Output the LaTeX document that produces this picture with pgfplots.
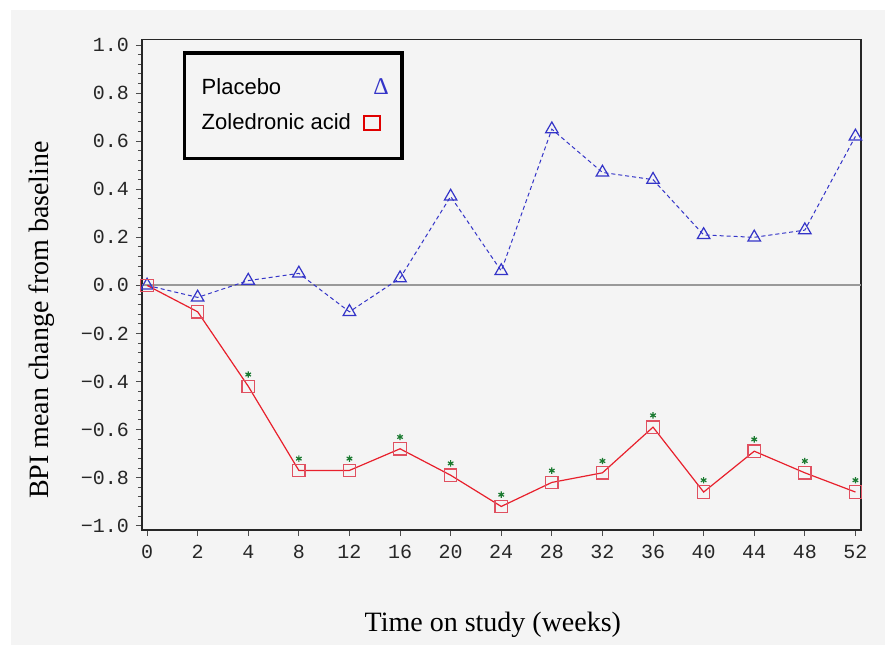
\documentclass[border=0pt]{standalone}
\usepackage{fontspec}
\setmainfont{Liberation Serif}
\setmonofont{Liberation Mono}
\newfontfamily\legfont{Liberation Sans}
\usepackage{pgfplots}
\pgfplotsset{compat=1.18}
\definecolor{bg}{HTML}{F4F4F4}
\definecolor{plblue}{HTML}{3434C8}
\definecolor{zored}{HTML}{E8202C}
\definecolor{zomark}{HTML}{E05060}
\definecolor{astgreen}{HTML}{1A7A30}
\definecolor{legred}{HTML}{E00000}
\begin{document}
\begin{tikzpicture}
\fill[white] (-71pt,-57.5pt) rectangle (371.5pt,265pt);
\fill[bg] (-65.5pt,-57.5pt) rectangle (371.5pt,260pt);
\path[use as bounding box] (-71pt,-57.5pt) rectangle (371.5pt,265pt);
\begin{axis}[
  at={(0,0)}, anchor=south west,
  scale only axis, width=359.5pt, height=245.35pt,
  xmin=-0.1, xmax=14.11, ymin=-1.018, ymax=1.024,
  axis line style={line width=0.65pt, black!85},
  tick align=outside, tick pos=left,
  major tick length=3pt, minor tick length=2pt,
  tick style={line width=0.5pt, black!70},
  xtick={0,...,14},
  xticklabels={0,2,4,8,12,16,20,24,28,32,36,40,44,48,52},
  ytick={-1,-0.8,-0.6,-0.4,-0.2,0,0.2,0.4,0.6,0.8,1},
  yticklabels={−1.0,−0.8,−0.6,−0.4,−0.2,0.0,0.2,0.4,0.6,0.8,1.0},
  minor y tick num=4,
  ticklabel style={font=\ttfamily\fontsize{10}{11}\selectfont, text=black!85},
  xticklabel style={yshift=-1pt},
  xlabel={Time on study (weeks)},
  xlabel style={at={(axis description cs:0.488,-0.1936)}, anchor=center, font=\fontsize{14}{16}\selectfont},
  ylabel={BPI mean change from baseline},
  ylabel style={at={(axis description cs:-0.139,0.428)}, anchor=center, font=\fontsize{14}{16}\selectfont},
  legend style={at={(0.057,0.976)}, anchor=north west, draw=black, line width=1.75pt,
    fill=bg, legend plot pos=right, legend cell align=left,
    font=\legfont\fontsize{11}{13}\selectfont, inner xsep=6.5pt, inner ysep=11pt, row sep=4pt,
    /tikz/every odd column/.append style={column sep=4pt}},
]
\addplot[gray!80, line width=1pt, forget plot] coordinates {(-0.1,0) (14.11,0)};
\addplot[plblue, line width=0.5pt, dash pattern=on 2pt off 1.5pt, mark=triangle, mark size=3.6pt,
  mark options={solid, line width=0.6pt, fill=none}, forget plot] coordinates {
(0,0) (1,-0.05) (2,0.02) (3,0.05) (4,-0.11) (5,0.03) (6,0.37) (7,0.06)
(8,0.65) (9,0.47) (10,0.44) (11,0.21) (12,0.20) (13,0.23) (14,0.62)};
\addplot[zored, line width=0.6pt, mark=square, mark size=3.1pt,
  mark options={zomark, line width=0.6pt, fill=none}, forget plot] coordinates {
(0,0) (1,-0.11) (2,-0.42) (3,-0.77) (4,-0.77) (5,-0.68) (6,-0.79) (7,-0.92)
(8,-0.82) (9,-0.78) (10,-0.59) (11,-0.86) (12,-0.69) (13,-0.78) (14,-0.86)};
\addplot[only marks, astgreen, mark=asterisk, mark size=1.6pt,
  mark options={yshift=5.9pt, line width=0.6pt}, forget plot] coordinates {
(2,-0.42) (3,-0.77) (4,-0.77) (5,-0.68) (6,-0.79) (7,-0.92)
(8,-0.82) (9,-0.78) (10,-0.59) (11,-0.86) (12,-0.69) (13,-0.78) (14,-0.86)};
\addlegendimage{legend image code/.code={\node[inner sep=0pt, text=plblue, font=\rmfamily\fontsize{12}{14}\selectfont] at (0.25cm,0) {Δ};}}
\addlegendentry{Placebo}
\addlegendimage{legend image code/.code={\draw[legred, line width=1pt] (0.25cm,0) +(-3.9pt,-3.6pt) rectangle +(3.9pt,3.6pt);}}
\addlegendentry{Zoledronic acid}
\end{axis}
\end{tikzpicture}
\end{document}
